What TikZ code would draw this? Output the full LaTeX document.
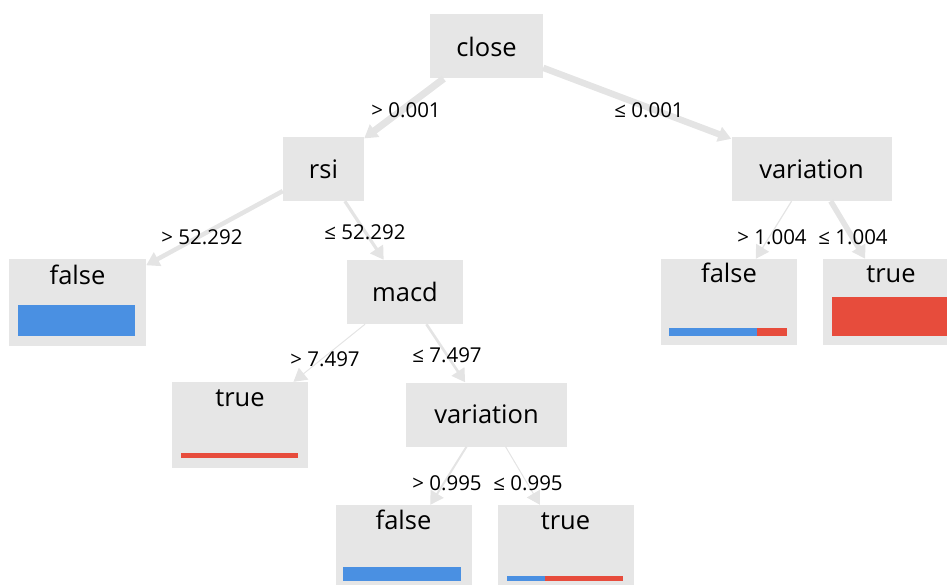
\documentclass[tikz,border=0pt]{standalone}
\usepackage{fontspec}
\setmainfont{Open Sans}
\usetikzlibrary{arrows.meta}
\definecolor{nodegray}{RGB}{230,230,230}
\definecolor{edgegray}{RGB}{228,228,228}
\definecolor{barblue}{RGB}{74,144,226}
\definecolor{barred}{RGB}{231,76,60}
\begin{document}
\begin{tikzpicture}[x=1pt,y=-1pt,
  inner/.style={fill=nodegray, minimum height=64pt, inner sep=0pt, font=\fontsize{25.5}{30}\selectfont},
  leaf/.style={fill=nodegray, minimum width=136pt, minimum height=86pt, inner sep=0pt},
  leaftext/.style={anchor=base, font=\fontsize{25.5}{30}\selectfont, inner sep=0pt},
  cond/.style={font=\fontsize{20.5}{24}\selectfont, inner sep=0pt},
  edge/.style={draw=edgegray, -{Triangle[length=13pt,width=15pt]}}]
\clip (0,0) rectangle (947,585);
% internal nodes
\node[inner, minimum width=113pt] (close) at (486.5,46.5) {close};
\node[inner, minimum width=81pt] (rsi) at (323.5,169) {rsi};
\node[inner, minimum width=160pt] (varR) at (811.5,169) {variation};
\node[inner, minimum width=116pt] (macd) at (405,292) {macd};
\node[inner, minimum width=161pt] (varM) at (486.5,414.5) {variation};
% leaves
\node[leaf, minimum width=137pt] (falseL) at (77.5,302.5) {};
\node[leaf] (falseR) at (729,302) {};
\node[leaf] (trueR) at (891,302) {};
\node[leaf] (trueM) at (240,425) {};
\node[leaf] (falseB) at (403.5,548) {};
\node[leaf] (trueB) at (565.5,548) {};
% leaf texts
\node[leaftext] (tfalseL) at (77.5,284) {false};
\node[leaftext] (tfalseR) at (729,283) {false};
\node[leaftext] (ttrueR) at (891,283) {true};
\node[leaftext] (ttrueM) at (240,406) {true};
\node[leaftext] (tfalseB) at (403.5,529) {false};
\node[leaftext] (ttrueB) at (565.5,529) {true};
% bars
\fill[barblue] (18,305) rectangle (135,336);
\fill[barblue] (669,328) rectangle (757,336);
\fill[barred] (757,328) rectangle (787,336);
\fill[barred] (832,297) rectangle (950,336);
\fill[barred] (181,453) rectangle (298,458);
\fill[barblue] (343,567) rectangle (461,581);
\fill[barblue] (507,576) rectangle (545,581);
\fill[barred] (545,576) rectangle (623,581);
% edges
\draw[edge, line width=7pt] (close) -- (rsi);
\draw[edge, line width=6.5pt] (close) -- (varR);
\draw[edge, line width=4.5pt] (rsi) -- (falseL);
\draw[edge, line width=3.2pt] (rsi) -- (macd);
\draw[edge, line width=1pt] (macd) -- (trueM);
\draw[edge, line width=2.6pt] (macd) -- (varM);
\draw[edge, line width=2pt] (varM) -- (falseB);
\draw[edge, line width=1pt] (varM) -- (trueB);
\draw[edge, line width=1.2pt] (varR) -- (falseR);
\draw[edge, line width=5.5pt] (varR) -- (trueR);
% conditions
\node[cond] (c1) at (406,110) {> 0.001};
\node[cond] (c2) at (649,110) {≤ 0.001};
\node[cond] (c3) at (202,237) {> 52.292};
\node[cond] (c4) at (365,232) {≤ 52.292};
\node[cond] (c5) at (325,359) {> 7.497};
\node[cond] (c6) at (447,355) {≤ 7.497};
\node[cond] (c7) at (447,483) {> 0.995};
\node[cond] (c8) at (528,483) {≤ 0.995};
\node[cond] (c9) at (772,237) {> 1.004};
\node[cond] (c10) at (853,237) {≤ 1.004};
\end{tikzpicture}
\end{document}
